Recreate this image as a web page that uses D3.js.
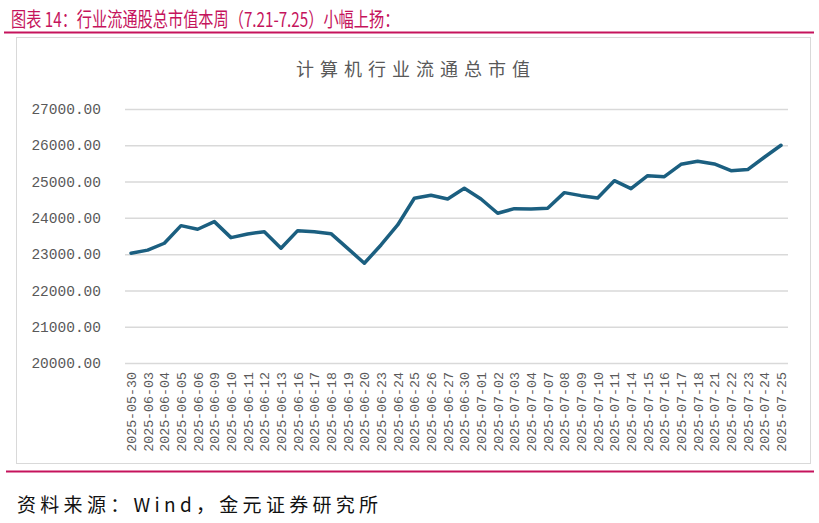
<!DOCTYPE html>
<html>
<head>
<meta charset="utf-8">
<script src="https://cdn.jsdelivr.net/npm/d3@7"></script>
<style>
  body { margin: 0; background: #fff; }
  svg { display: block; }
</style>
</head>
<body>
<div id="chart"></div>
<script>
// trading days and total free-float market value (计算机行业)
var dates = ["2025-05-30","2025-06-03","2025-06-04","2025-06-05","2025-06-06","2025-06-09","2025-06-10",
  "2025-06-11","2025-06-12","2025-06-13","2025-06-16","2025-06-17","2025-06-18","2025-06-19","2025-06-20",
  "2025-06-23","2025-06-24","2025-06-25","2025-06-26","2025-06-27","2025-06-30","2025-07-01","2025-07-02",
  "2025-07-03","2025-07-04","2025-07-07","2025-07-08","2025-07-09","2025-07-10","2025-07-11","2025-07-14",
  "2025-07-15","2025-07-16","2025-07-17","2025-07-18","2025-07-21","2025-07-22","2025-07-23","2025-07-24","2025-07-25"];
var values = [23025, 23110, 23300, 23785, 23686, 23896, 23455, 23556, 23620, 23162, 23647, 23620, 23565,
  23160, 22749, 23253, 23804, 24540, 24622, 24520, 24815, 24520, 24127, 24254, 24245, 24264, 24695,
  24612, 24548, 25025, 24805, 25163, 25135, 25476, 25560, 25485, 25300, 25330, 25670, 26000];
var yTicks = [20000, 21000, 22000, 23000, 24000, 25000, 26000, 27000];

var headerText = "图表 14：行业流通股总市值本周（7.21-7.25）小幅上扬：";
var chartTitle = "计算机行业流通总市值";
var sourceText = "资料来源：Wind，金元证券研究所";

var W = 819, H = 523;
var red = "#c5135c";

var svg = d3.select("#chart").append("svg")
  .attr("width", W)
  .attr("height", H);

// header
svg.append("text")
  .attr("transform", "translate(11,27) scale(0.76,1)")
  .attr("font-family", "Noto Sans CJK SC")
  .attr("font-size", 20)
  .attr("fill", red)
  .text(headerText);

svg.append("line")
  .attr("x1", 4).attr("x2", 814)
  .attr("y1", 32.5).attr("y2", 32.5)
  .attr("stroke", red).attr("stroke-width", 2);

// chart frame
svg.append("rect")
  .attr("x", 16.5).attr("y", 37.5)
  .attr("width", 794).attr("height", 426)
  .attr("fill", "#fff")
  .attr("stroke", "#d9d9d9");

svg.append("text")
  .attr("x", 416).attr("y", 76)
  .attr("text-anchor", "middle")
  .attr("font-family", "Noto Sans CJK SC")
  .attr("font-size", 18)
  .attr("letter-spacing", 6)
  .attr("fill", "#595959")
  .text(chartTitle);

var x = d3.scalePoint()
  .domain(dates)
  .range([131, 781]);

var y = d3.scaleLinear()
  .domain([20000, 27000])
  .range([363, 109]);

// y axis with gridlines
var gridLeft = 125, gridRight = 788;
var yAxis = svg.append("g")
  .attr("transform", "translate(" + gridLeft + ",0)")
  .call(d3.axisLeft(y)
    .tickValues(yTicks)
    .tickSize(-(gridRight - gridLeft))
    .tickPadding(24)
    .tickFormat(d3.format(".2f")));

yAxis.select(".domain").remove();
yAxis.selectAll(".tick line")
  .attr("stroke", "#d9d9d9")
  .attr("stroke-width", 1.5);
yAxis.selectAll(".tick text")
  .attr("font-family", "Liberation Mono")
  .attr("font-size", 14.5)
  .attr("fill", "#595959");

// x axis, rotated labels
var xAxis = svg.append("g")
  .attr("transform", "translate(0,363)")
  .call(d3.axisBottom(x).tickSize(0));

xAxis.select(".domain").remove();
xAxis.selectAll(".tick text")
  .attr("transform", "rotate(-90)")
  .attr("text-anchor", "end")
  .attr("x", -9)
  .attr("y", 0)
  .attr("dy", "0.35em")
  .attr("font-family", "Liberation Mono")
  .attr("font-size", 13.3)
  .attr("fill", "#595959");

// the line
var line = d3.line()
  .x(function(d, i) { return x(dates[i]); })
  .y(function(d) { return y(d); });

svg.append("path")
  .datum(values)
  .attr("d", line)
  .attr("fill", "none")
  .attr("stroke", "#1b5f80")
  .attr("stroke-width", 3.5)
  .attr("stroke-linejoin", "round")
  .attr("stroke-linecap", "round");

// footer
svg.append("line")
  .attr("x1", 6).attr("x2", 814)
  .attr("y1", 471.5).attr("y2", 471.5)
  .attr("stroke", red).attr("stroke-width", 2);

svg.append("text")
  .attr("x", 17).attr("y", 512)
  .attr("font-family", "Noto Sans CJK SC")
  .attr("font-size", 19)
  .attr("letter-spacing", 4.3)
  .attr("fill", "#111")
  .text(sourceText);
</script>
</body>
</html>
